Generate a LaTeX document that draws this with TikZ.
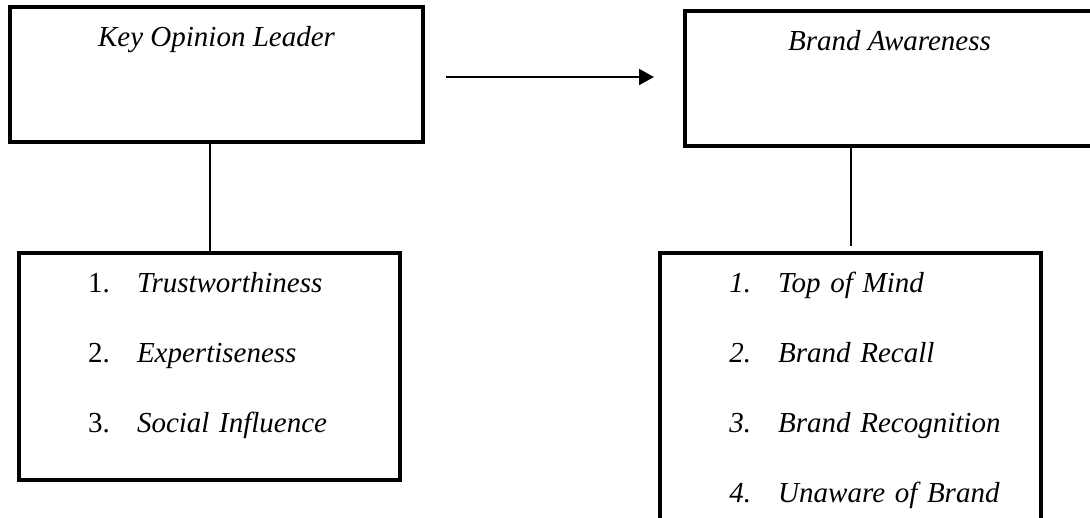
\documentclass[tikz,border=0pt]{standalone}
\usepackage{fontspec}
\setmainfont{Liberation Serif}
\usetikzlibrary{arrows.meta}
\tikzset{
    varbox/.style={draw, line width=2pt, inner sep=0pt, minimum width=#1,
        text height=19.75pt, text depth=47.75pt,
        font=\fontsize{14.5pt}{17pt}\selectfont\itshape},
    listbox/.style={draw, line width=2pt, inner sep=0pt, text width=190.5pt,
        align=left, text height=19.5pt, text depth=#1,
        font=\fontsize{14.5pt}{35pt}\selectfont},
    link/.style={line width=1pt},
    flow/.style={line width=1pt, -{Triangle[length=7.5pt,width=8pt]}}
}
\newcommand{\itemrow}[2]{\hspace*{34.5pt}\makebox[24.5pt][l]{#1}\textit{#2}}
\begin{document}
\begin{tikzpicture}[x=0.5pt,y=-0.5pt]
        \useasboundingbox (0,0) rectangle (1090,518);
        % Variables
        \node[varbox=206.5pt] (kol) at (216.5,74.5) {Key Opinion Leader};
        \node[varbox=204.5pt] (aware) at (889.5,78.5) {Brand Awareness};
        % Indicators
        \node[listbox=94pt] (kolind) at (209.5,366.5) {%
            \itemrow{1.}{Trustworthiness}\\
            \itemrow{2.}{Expertiseness}\\
            \itemrow{3.}{Social Influence}};
        \node[listbox=115pt] (awareind) at (850.75,387.5) {%
            \itemrow{\textit{1.}}{Top of Mind}\\
            \itemrow{\textit{2.}}{Brand Recall}\\
            \itemrow{\textit{3.}}{Brand Recognition}\\
            \itemrow{\textit{4.}}{Unaware of Brand}};
        \draw[flow, shorten <=10.5pt, shorten >=14.5pt]
            ([yshift=-1.25pt]kol.east) -- ([yshift=-1.25pt]kol.east -| aware.west);
        \draw[link] (kolind.north) -- (kolind.north |- kol.south);
        \draw[link, shorten <=-1.5pt, shorten >=2.5pt]
            (awareind.north |- aware.south) -- (awareind.north);
    \end{tikzpicture}
\end{document}
